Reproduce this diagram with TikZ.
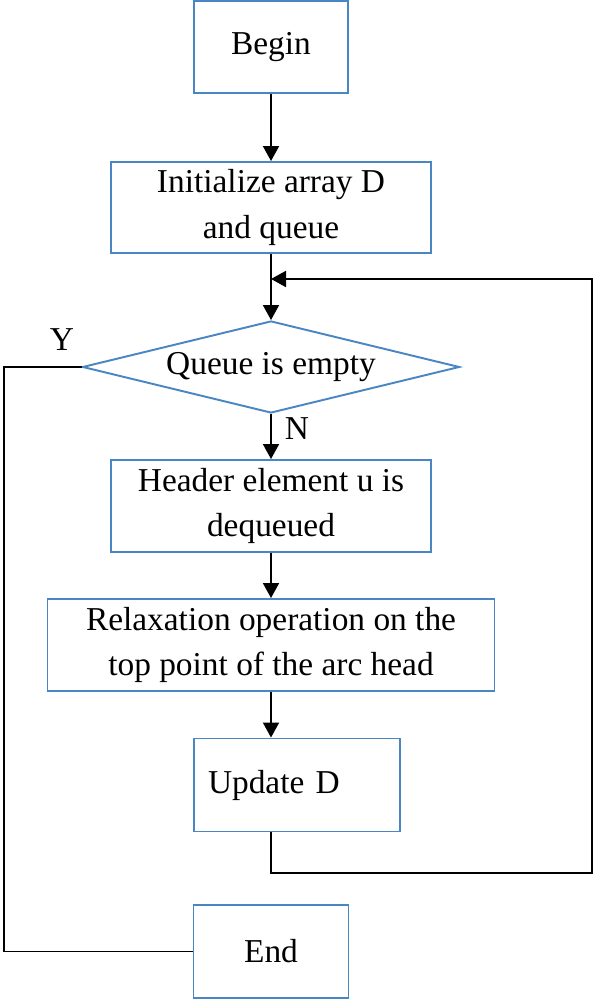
\documentclass[tikz,border=0pt]{standalone}
\usepackage{fontspec}
\setmainfont{Liberation Serif}
\usetikzlibrary{shapes.geometric, arrows.meta}
\definecolor{boxblue}{RGB}{74,134,196}
\tikzset{
>={Triangle[length=0.3cm,width=0.32cm]},
  stepbox/.style={
    rectangle,
    draw=boxblue, line width=1.1pt,
    align=center,
    inner sep=0pt,
    font=\fontsize{19}{26}\selectfont},
  decision/.style={
    diamond,
    aspect=4.1,
    draw=boxblue, line width=1.1pt,
    inner sep=0pt,
    font=\fontsize{19}{26}\selectfont},
  line/.style={draw, line width=1.1pt, ->},
  plain/.style={draw, line width=1.1pt},
  tag/.style={font=\fontsize{19}{24}\selectfont},
}
\begin{document}
\begin{tikzpicture}
\useasboundingbox (0,0) rectangle (11.86,19.98);
\node[stepbox, minimum width=3.08cm, minimum height=1.84cm] (begin) at (5.42,19.04) {Begin};
\node[stepbox, minimum width=6.4cm, minimum height=1.82cm] (init) at (5.42,15.83) {Initialize array D\\and queue};
\node[decision, minimum width=7.54cm, minimum height=1.84cm] (query) at (5.42,12.64) {Queue is empty};
\node[stepbox, minimum width=6.4cm, minimum height=1.84cm] (header) at (5.42,9.86) {Header element u is\\dequeued};
\node[stepbox, minimum width=8.94cm, minimum height=1.84cm] (relax) at (5.42,7.08) {Relaxation operation on the\\top point of the arc head};
% text of this box sits left of its centre
\node[stepbox, minimum height=1.86cm, text width=3.56cm, inner xsep=0.28cm, align=left] (update) at (5.94,4.28) {Update D};
\node[stepbox, minimum width=3.1cm, minimum height=1.86cm] (finish) at (5.42,0.95) {End};
\node[tag] (ylab) at (1.24,13.18) {Y};
\node[tag] (nlab) at (5.94,11.40) {N};
\coordinate (loopR) at (11.84,2.52);
\coordinate (loopT) at (5.42,14.40);
\coordinate (yleft) at (0.08,0);
\foreach \a/\b in {begin/init, init/query, query/header, header/relax}
    \draw[line] (\a) -- (\b);
\draw[line] (relax.south) -- (relax.south |- update.north);
\draw[line] (loopT |- update.south) -- (loopT |- loopR) -- (loopR) -- (loopR |- loopT) -- (loopT);
\draw[plain] (query.west) -- (query.west -| yleft) -- (yleft |- finish.west) -- (finish.west);
\end{tikzpicture}
\end{document}
